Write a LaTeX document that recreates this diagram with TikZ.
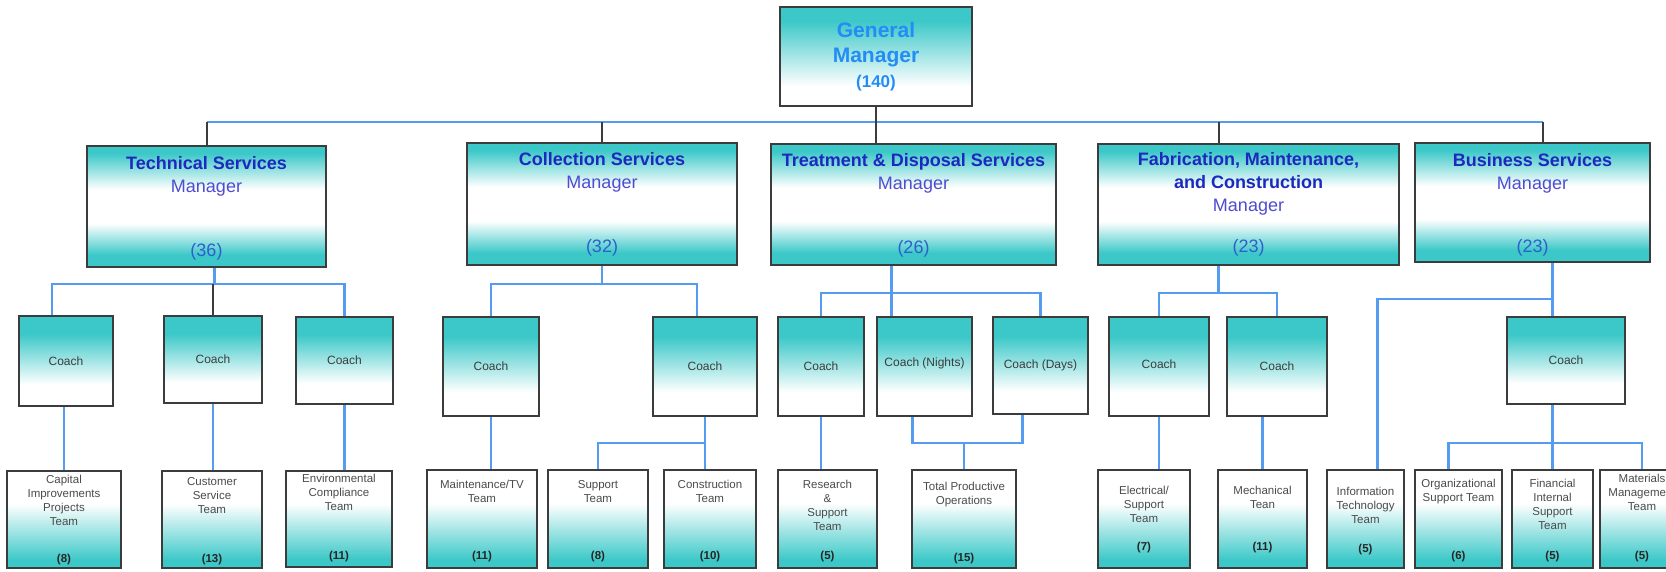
\documentclass[tikz,border=0pt]{standalone}
\usepackage{fontspec}
\setmainfont{Liberation Sans}
\usepackage{tikz}

\definecolor{aqua}{RGB}{60,200,200}
\definecolor{edge}{RGB}{60,60,60}
\definecolor{linkblue}{RGB}{85,155,240}
\definecolor{gmblue}{RGB}{35,140,245}
\definecolor{titleblue}{RGB}{30,40,190}
\definecolor{mgrblue}{RGB}{80,75,210}
\definecolor{cntblue}{RGB}{45,95,205}
\definecolor{coachtext}{RGB}{60,60,60}
\definecolor{teamtext}{RGB}{75,75,75}

% Fades used for the boxes (path fills the band 25bp..75bp)
\pgfdeclareverticalshading{gmfade}{100bp}{color(0bp)=(white); color(25bp)=(white); color(35bp)=(white); color(68bp)=(aqua); color(100bp)=(aqua)}
\pgfdeclareverticalshading{mgrfade}{100bp}{color(0bp)=(aqua); color(30bp)=(aqua); color(43bp)=(white); color(57bp)=(white); color(72bp)=(aqua); color(100bp)=(aqua)}
\pgfdeclareverticalshading{coachfade}{100bp}{color(0bp)=(white); color(25bp)=(white); color(37bp)=(white); color(65bp)=(aqua); color(100bp)=(aqua)}
\pgfdeclareverticalshading{teamfade}{100bp}{color(0bp)=(aqua); color(29bp)=(aqua); color(58bp)=(white); color(100bp)=(white)}

\tikzset{
	box/.style={draw=edge, line width=2pt, inner sep=0pt, shade},
	gmbox/.style={box, shading=gmfade, align=center, text=gmblue, font=\bfseries\fontsize{21}{25}\selectfont},
	mgrbox/.style={box, shading=mgrfade},
	coachbox/.style={box, shading=coachfade, text=coachtext, font=\fontsize{12}{14}\selectfont},
	teambox/.style={box, shading=teamfade},
	mgrtitle/.style={align=center, inner sep=0pt, anchor=north, text=titleblue, font=\fontsize{18}{23}\selectfont},
	mgrcount/.style={inner sep=0pt, text=cntblue, font=\fontsize{18}{22}\selectfont},
	teamtitle/.style={align=center, inner sep=0pt, anchor=north, text=teamtext, font=\fontsize{11.5}{14}\selectfont},
	teamcount/.style={inner sep=0pt, text=black!85, font=\bfseries\fontsize{11.5}{14}\selectfont},
	link/.style={draw=linkblue, line width=2.5pt},
	stem/.style={draw=edge, line width=2pt},
}

\begin{document}
\begin{tikzpicture}[x=1pt,y=-1pt]
	% Page
	\useasboundingbox (0,0) rectangle (1666,571);
	\clip (0,0) rectangle (1666,571);
	\fill[white] (0,0) rectangle (1666,571);

	% General manager
	\node[gmbox, minimum width=192, minimum height=99] (gm) at (876,56.5) {General\\Manager\\{\fontsize{17}{25}\selectfont(140)}};

	% Managers
	\node[mgrbox, minimum width=239, minimum height=121] (tech) at (206.5,206.5) {};
	\node[mgrtitle] (tech-t) at (206.5,156) {\textbf{Technical Services}\\\textcolor{mgrblue}{Manager}};
	\node[mgrcount] (tech-n) at (206.5,252) {(36)};
	%
	\node[mgrbox, minimum width=270, minimum height=122] (coll) at (602,204) {};
	\node[mgrtitle] (coll-t) at (602,152) {\textbf{Collection Services}\\\textcolor{mgrblue}{Manager}};
	\node[mgrcount] (coll-n) at (602,248) {(32)};
	%
	\node[mgrbox, minimum width=285, minimum height=121] (tds) at (913.5,204.5) {};
	\node[mgrtitle] (tds-t) at (913.5,153) {\textbf{Treatment \& Disposal Services}\\\textcolor{mgrblue}{Manager}};
	\node[mgrcount] (tds-n) at (913.5,249) {(26)};
	%
	\node[mgrbox, minimum width=301, minimum height=121] (fab) at (1248.5,204.5) {};
	\node[mgrtitle] (fab-t) at (1248.5,152) {\textbf{Fabrication, Maintenance,}\\\textbf{and Construction}\\\textcolor{mgrblue}{Manager}};
	\node[mgrcount] (fab-n) at (1248.5,248) {(23)};
	%
	\node[mgrbox, minimum width=235, minimum height=119] (bus) at (1532.5,202.5) {};
	\node[mgrtitle] (bus-t) at (1532.5,153) {\textbf{Business Services}\\\textcolor{mgrblue}{Manager}};
	\node[mgrcount] (bus-n) at (1532.5,248) {(23)};

	% Coaches
	\node[coachbox, minimum width=94, minimum height=90] (tc1) at (66,361) {Coach};
	\node[coachbox, minimum width=98, minimum height=87] (tc2) at (213,359.5) {Coach};
	\node[coachbox, minimum width=97, minimum height=87] (tc3) at (344.5,360.5) {Coach};
	\node[coachbox, minimum width=96, minimum height=99] (cca) at (491,366.5) {Coach};
	\node[coachbox, minimum width=104, minimum height=99] (ccb) at (705,366.5) {Coach};
	\node[coachbox, minimum width=86, minimum height=99] (ccc) at (821,366.5) {Coach};
	\node[coachbox, minimum width=95, minimum height=99] (cnight) at (924.5,366.5) {\raisebox{8pt}{Coach (Nights)}};
	\node[coachbox, minimum width=95, minimum height=97] (cday) at (1040.5,365.5) {Coach (Days)};
	\node[coachbox, minimum width=100, minimum height=99] (cf1) at (1159,366.5) {\raisebox{4pt}{Coach}};
	\node[coachbox, minimum width=100, minimum height=99] (cf2) at (1277,366.5) {Coach};
	\node[coachbox, minimum width=118, minimum height=87] (cbus) at (1566,360.5) {Coach};

	% Teams
	\node[teambox, minimum width=114, minimum height=97] (tt1) at (64,519.5) {};
	\node[teamtitle] (tt1-t) at (64,474.5) {Capital\\Improvements\\Projects\\Team};
	\node[teamcount] (tt1-n) at (64,560) {(8)};
	%
	\node[teambox, minimum width=100, minimum height=97] (tt2) at (212,519.5) {};
	\node[teamtitle] (tt2-t) at (212,477.5) {Customer\\Service\\Team};
	\node[teamcount] (tt2-n) at (212,560) {(13)};
	%
	\node[teambox, minimum width=106, minimum height=96] (tt3) at (339,519) {};
	\node[teamtitle] (tt3-t) at (339,473.5) {Environmental\\Compliance\\Team};
	\node[teamcount] (tt3-n) at (339,557) {(11)};
	%
	\node[teambox, minimum width=110, minimum height=98] (tmaint) at (482,519) {};
	\node[teamtitle] (tmaint-t) at (482,480) {Maintenance/TV\\Team};
	\node[teamcount] (tmaint-n) at (482,557) {(11)};
	%
	\node[teambox, minimum width=100, minimum height=98] (tsup) at (598,519) {};
	\node[teamtitle] (tsup-t) at (598,480) {Support\\Team};
	\node[teamcount] (tsup-n) at (598,557) {(8)};
	%
	\node[teambox, minimum width=92, minimum height=98] (tcons) at (710,519) {};
	\node[teamtitle] (tcons-t) at (710,480) {Construction\\Team};
	\node[teamcount] (tcons-n) at (710,557) {(10)};
	%
	\node[teambox, minimum width=99, minimum height=98] (tres) at (827.5,519) {};
	\node[teamtitle] (tres-t) at (827.5,480) {Research\\\&\\Support\\Team};
	\node[teamcount] (tres-n) at (827.5,557) {(5)};
	%
	\node[teambox, minimum width=104, minimum height=98] (ttpo) at (964,519) {};
	\node[teamtitle] (ttpo-t) at (964,482) {Total Productive\\Operations};
	\node[teamcount] (ttpo-n) at (964,559) {(15)};
	%
	\node[teambox, minimum width=92, minimum height=98] (telec) at (1144,519) {};
	\node[teamtitle] (telec-t) at (1144,485.5) {Electrical/\\Support\\Team};
	\node[teamcount] (telec-n) at (1144,548) {(7)};
	%
	\node[teambox, minimum width=89, minimum height=98] (tmech) at (1262.5,519) {};
	\node[teamtitle] (tmech-t) at (1262.5,485.5) {Mechanical\\Tean};
	\node[teamcount] (tmech-n) at (1262.5,548) {(11)};
	%
	\node[teambox, minimum width=77, minimum height=98] (tit) at (1365.5,519) {};
	\node[teamtitle] (tit-t) at (1365.5,487) {Information\\Technology\\Team};
	\node[teamcount] (tit-n) at (1365.5,550) {(5)};
	%
	\node[teambox, minimum width=87, minimum height=98] (torg) at (1458.5,519) {};
	\node[teamtitle] (torg-t) at (1458.5,479) {Organizational\\Support Team};
	\node[teamcount] (torg-n) at (1458.5,557) {(6)};
	%
	\node[teambox, minimum width=81, minimum height=98] (tfin) at (1552.5,519) {};
	\node[teamtitle] (tfin-t) at (1552.5,479) {Financial\\Internal\\Support\\Team};
	\node[teamcount] (tfin-n) at (1552.5,557) {(5)};
	%
	\node[teambox, minimum width=84, minimum height=98] (tmat) at (1642,519) {};
	\node[teamtitle] (tmat-t) at (1642,473.5) {Materials\\Management\\Team};
	\node[teamcount] (tmat-n) at (1642,557) {(5)};

	% Bars
	\coordinate (top-bar) at (0,122);
	\coordinate (mid-bar) at (0,284);
	\coordinate (tds-bar) at (0,293);
	\coordinate (bus-bar) at (0,299);
	\coordinate (low-bar) at (0,443);

	% Off-centre joints
	\coordinate (fab-in) at ([xshift=-30pt]fab.north);
	\coordinate (bus-in) at ([xshift=10pt]bus.north);
	\coordinate (tech-out) at ([xshift=8pt]tech.south);
	\coordinate (tds-out) at ([xshift=-22pt]tds.south);
	\coordinate (fab-out) at ([xshift=-30pt]fab.south);
	\coordinate (bus-out) at ([xshift=20pt]bus.south);
	\coordinate (tc1-in) at ([xshift=-14pt]tc1.north);
	\coordinate (ccb-in) at ([xshift=-8pt]ccb.north);
	\coordinate (night-out) at ([xshift=-12pt]cnight.south);
	\coordinate (day-out) at ([xshift=-18pt]cday.south);
	\coordinate (it-in) at ([xshift=12pt]tit.north);
	\coordinate (org-in) at ([xshift=-10pt]torg.north);

	% General manager to managers
	\draw[link] (tech.north |- top-bar) -- (bus-in |- top-bar);
	\draw[stem] (gm.south) -- (gm.south |- tds.north);
	\draw[stem] (tech.north) -- (tech.north |- top-bar);
	\draw[stem] (coll.north) -- (coll.north |- top-bar);
	\draw[stem] (fab-in) -- (fab-in |- top-bar);
	\draw[stem] (bus-in) -- (bus-in |- top-bar);

	% Technical services
	\draw[link] (tech-out) -- (tech-out |- mid-bar);
	\draw[link] (tc1-in) |- (mid-bar -| tc3.north) -- (tc3.north);
	\draw[stem] (tc2.north) -- (tc2.north |- mid-bar);
	\draw[link] (tc1.south -| tt1.north) -- (tt1.north);
	\draw[link] (tc2.south) -- (tc2.south |- tt2.north);
	\draw[link] (tc3.south) -- (tc3.south |- tt3.north);

	% Collection services
	\draw[link] (coll.south) -- (coll.south |- mid-bar);
	\draw[link] (cca.north) |- (mid-bar -| ccb-in) -- (ccb-in);
	\draw[link] (cca.south) -- (cca.south |- tmaint.north);
	\draw[link] (ccb.south) -- (ccb.south |- tcons.north);
	\draw[link] (tsup.north) |- (low-bar -| ccb.south);

	% Treatment & disposal services
	\draw[link] (tds-out) -- (tds-out |- cnight.north);
	\draw[link] (ccc.north) |- (tds-bar -| cday.north) -- (cday.north);
	\draw[link] (ccc.south) -- (ccc.south |- tres.north);
	\draw[link] (night-out) |- (low-bar -| day-out) -- (day-out);
	\draw[link] (ttpo.north) -- (ttpo.north |- low-bar);

	% Fabrication, maintenance and construction
	\draw[link] (fab-out) -- (fab-out |- tds-bar);
	\draw[link] (cf1.north) |- (tds-bar -| cf2.north) -- (cf2.north);
	\draw[link] (cf1.south) -- (cf1.south |- telec.north);
	\draw[link] (tmech.north) -- (tmech.north |- cf2.south);

	% Business services
	\draw[link] (bus-out) -- (bus-out |- cbus.north);
	\draw[link] (it-in) |- (bus-bar -| bus-out);
	\draw[link] (cbus.south -| tfin.north) -- (tfin.north);
	\draw[link] (org-in) |- (low-bar -| tmat.north) -- (tmat.north);
\end{tikzpicture}
\end{document}
